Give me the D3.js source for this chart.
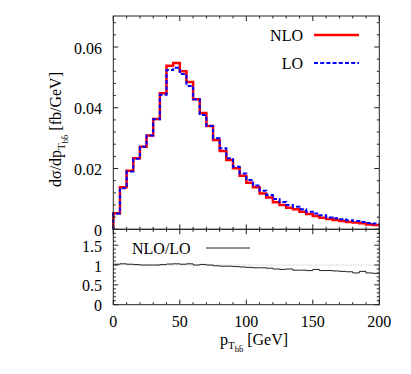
<!DOCTYPE html>
<html><head><meta charset="utf-8">
<script src="https://cdn.jsdelivr.net/npm/d3@7"></script>
<style>
html,body{margin:0;padding:0;background:#fff;}
svg text{font-family:"Liberation Serif","Times New Roman",serif;font-size:16px;fill:#000;}
</style>
</head><body>
<svg id="c" width="411" height="374"></svg>
<script>
const binStart = [0,5,10,15,20,25,30,35,40,45,50,55,60,65,70,75,80,85,90,95,100,105,110,115,120,125,130,135,140,145,150,155,160,165,170,175,180,185,190,195];
const nlo = [0.0053,0.0138,0.0193,0.0234,0.0272,0.0309,0.0363,0.0448,0.0538,0.0547,0.0520,0.0485,0.0428,0.0383,0.0340,0.0294,0.0258,0.0228,0.0201,0.0176,0.0153,0.0138,0.0118,0.0105,0.0089,0.0080,0.0071,0.0066,0.0058,0.0050,0.0044,0.0038,0.0034,0.0031,0.0027,0.0024,0.0022,0.0020,0.0016,0.0014];
const lo = [0.0052,0.0135,0.0190,0.0232,0.0272,0.0309,0.0362,0.0443,0.0524,0.0532,0.0511,0.0472,0.0428,0.0376,0.0340,0.0300,0.0267,0.0234,0.0206,0.0184,0.0162,0.0144,0.0127,0.0113,0.0100,0.0090,0.0080,0.0074,0.0066,0.0058,0.0052,0.0046,0.0039,0.0036,0.0033,0.0030,0.0027,0.0024,0.0021,0.0019];
const ratio = [1.02,1.03,1.02,1.01,1.0,1.0,1.0,1.01,1.025,1.03,1.02,1.03,1.0,1.015,1.0,0.98,0.97,0.97,0.96,0.95,0.94,0.93,0.93,0.92,0.90,0.89,0.90,0.87,0.87,0.86,0.89,0.86,0.86,0.85,0.84,0.83,0.80,0.84,0.80,0.79];
const xTicks = [0,50,100,150,200];
const xTickLabels = ["0","50","100","150","200"];
const yTopTicks = [0,0.02,0.04,0.06];
const yTopTickLabels = ["0","0.02","0.04","0.06"];
const yBotTicks = [0,0.5,1,1.5];
const yBotTickLabels = ["0","0.5","1","1.5"];
const binWidth = 5;
const xMax = 200;

const svg = d3.select("#c");
const x = d3.scaleLinear([0, xMax], [113.3, 379.3]);
const yT = d3.scaleLinear([0, 0.0702], [229.3, 16]);
const yB = d3.scaleLinear([0, 1.9], [304.7, 229.3]);

const frameColor = "#222";
const majL = 5, minL = 2.5;

function xMinors(){ return d3.range(0, xMax + 0.001, 10); }

function drawPanel(y, yTicks, yLabels, yMinorStep, showXLabels){
  const [y0, y1] = y.range(); // bottom, top
  const [x0, x1] = x.range();
  const g = svg.append("g");
  // ticks y
  const yMin = d3.range(0, y.domain()[1] + 1e-9, yMinorStep);
  yMin.forEach(v => {
    const isMaj = yTicks.some(t => Math.abs(t - v) < 1e-9);
    const L = isMaj ? majL : minL;
    g.append("line").attr("x1", x0).attr("x2", x0 + L).attr("y1", y(v)).attr("y2", y(v)).attr("stroke", frameColor);
    g.append("line").attr("x1", x1).attr("x2", x1 - L).attr("y1", y(v)).attr("y2", y(v)).attr("stroke", frameColor);
  });
  xMinors().forEach(v => {
    const isMaj = xTicks.includes(v);
    const L = isMaj ? majL : minL;
    g.append("line").attr("x1", x(v)).attr("x2", x(v)).attr("y1", y0).attr("y2", y0 - L).attr("stroke", frameColor);
    g.append("line").attr("x1", x(v)).attr("x2", x(v)).attr("y1", y1).attr("y2", y1 + L).attr("stroke", frameColor);
  });
  yTicks.forEach((t, i) => {
    g.append("text").attr("x", 102).attr("y", y(t) + 1).attr("dy", "0.35em")
      .attr("text-anchor", "end").text(yLabels[i]);
  });
  if (showXLabels) {
    xTicks.forEach((t, i) => {
      g.append("text").attr("x", x(t)).attr("y", 321).attr("dy", "0.35em")
        .attr("text-anchor", "middle").text(xTickLabels[i]);
    });
  }
  g.append("rect").attr("x", x0).attr("y", y1).attr("width", x1 - x0).attr("height", y0 - y1)
    .attr("fill", "none").attr("stroke", frameColor).attr("stroke-width", 1);
}

function histPoints(vals){
  const pts = [[0, 0]];
  binStart.forEach((b, i) => pts.push([b, vals[i]]));
  pts.push([binStart[binStart.length - 1] + binWidth, vals[vals.length - 1]]);
  return pts;
}

// top panel data
const lineT = d3.line().x(d => x(d[0])).y(d => yT(d[1])).curve(d3.curveStepAfter);
svg.append("path").attr("d", lineT(histPoints(nlo))).attr("fill", "none")
  .attr("stroke", "#ff0000").attr("stroke-width", 2.5);
svg.append("path").attr("d", lineT(histPoints(lo))).attr("fill", "none")
  .attr("stroke", "#0000ff").attr("stroke-width", 2).attr("stroke-dasharray", "4,2.2");

// ratio panel
svg.append("line").attr("x1", x(0)).attr("x2", x(xMax)).attr("y1", yB(1)).attr("y2", yB(1))
  .attr("stroke", "#aaa").attr("stroke-width", 0.8).attr("stroke-dasharray", "1,1.5");
const lineB = d3.line().x(d => x(d[0])).y(d => yB(d[1])).curve(d3.curveStepAfter);
const rPts = binStart.map((b, i) => [b, ratio[i]]);
rPts.push([xMax, ratio[ratio.length - 1]]);
svg.append("path").attr("d", lineB(rPts)).attr("fill", "none")
  .attr("stroke", "#222").attr("stroke-width", 1);

drawPanel(yT, yTopTicks, yTopTickLabels, 0.004, false);
drawPanel(yB, yBotTicks, yBotTickLabels, 0.1, true);

// legends
svg.append("text").attr("x", 303).attr("y", 35).attr("dy", "0.35em").attr("text-anchor", "end").text("NLO");
svg.append("line").attr("x1", 314).attr("x2", 359).attr("y1", 35).attr("y2", 35)
  .attr("stroke", "#ff0000").attr("stroke-width", 2.5);
svg.append("text").attr("x", 303).attr("y", 63).attr("dy", "0.35em").attr("text-anchor", "end").text("LO");
svg.append("line").attr("x1", 314).attr("x2", 359).attr("y1", 63).attr("y2", 63)
  .attr("stroke", "#0000ff").attr("stroke-width", 2).attr("stroke-dasharray", "4,2.2");
svg.append("text").attr("x", 132).attr("y", 248).attr("dy", "0.35em").text("NLO/LO");
svg.append("line").attr("x1", 206).attr("x2", 250).attr("y1", 248).attr("y2", 248)
  .attr("stroke", "#222").attr("stroke-width", 1);

// axis titles
const xt = svg.append("text").attr("x", 254).attr("y", 345).attr("text-anchor", "middle");
xt.append("tspan").text("p");
xt.append("tspan").attr("dy", 4).attr("font-size", 11).text("T");
xt.append("tspan").attr("dy", 3).attr("font-size", 8.5).text("bb\u0304");
xt.append("tspan").attr("dy", -7).text(" [GeV]");

const yt = svg.append("text").attr("transform", "translate(61,129.5) rotate(-90)").attr("text-anchor", "middle");
yt.append("tspan").text("d\u03c3/dp");
yt.append("tspan").attr("dy", 4).attr("font-size", 11).text("T");
yt.append("tspan").attr("dy", 3).attr("font-size", 8.5).text("bb\u0304");
yt.append("tspan").attr("dy", -7).text(" [fb/GeV]");
</script>
</body></html>
